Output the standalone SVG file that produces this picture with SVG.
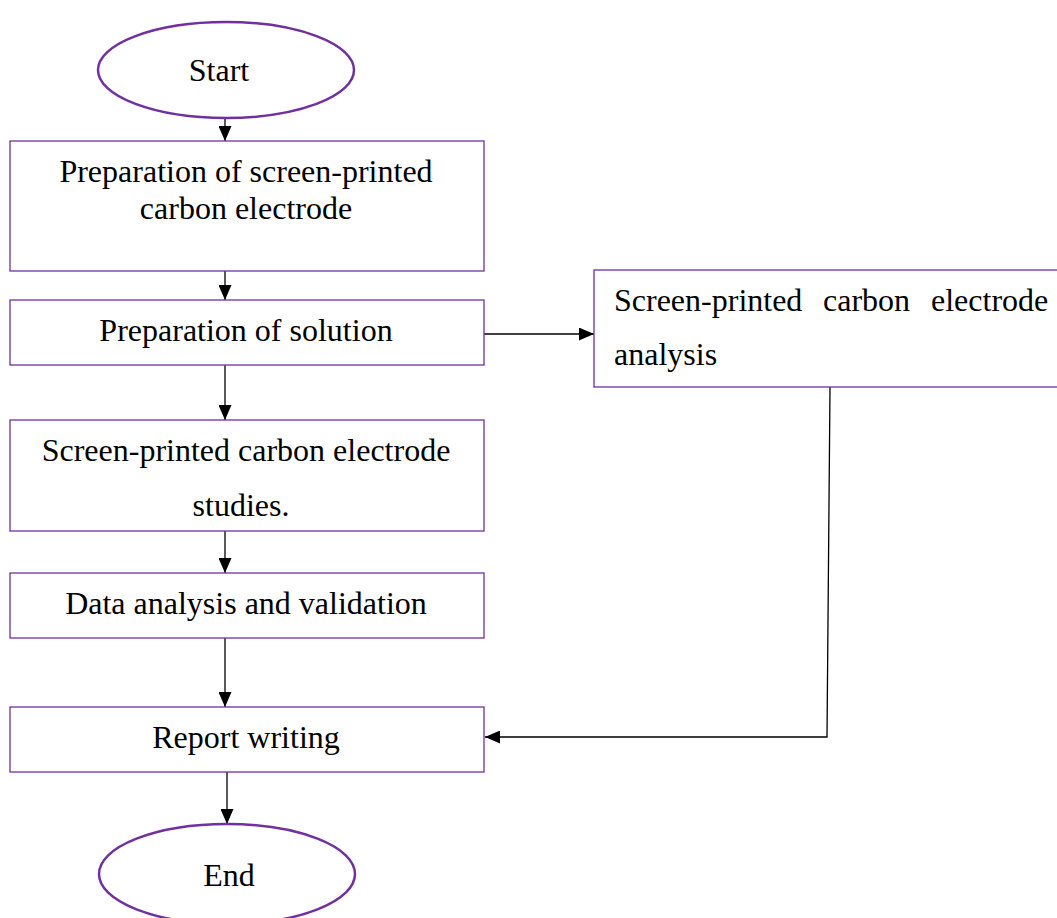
<svg xmlns="http://www.w3.org/2000/svg" width="1057" height="918" viewBox="0 0 1057 918">
<style>
.term{fill:#fff;stroke:#7030A0;stroke-width:2.5}
.box{fill:#fff;stroke:#7030A0;stroke-width:1.3}
.t{font-family:"Liberation Serif","Times New Roman",serif;font-size:32px;fill:#000}
.c{text-anchor:middle}
.ln{fill:none;stroke:#000;stroke-width:1.3}
</style>
<defs>
<marker id="ah" markerWidth="15" markerHeight="13" refX="15" refY="6.5" orient="auto" markerUnits="userSpaceOnUse">
<path d="M0,0 L15,6.5 L0,13 Z" fill="#000"/>
</marker>
</defs>
<rect width="1057" height="918" fill="#fff"/>
<g id="connectors">
<line class="ln" x1="225" y1="118" x2="225" y2="141" marker-end="url(#ah)"/>
<line class="ln" x1="225" y1="271" x2="225" y2="300" marker-end="url(#ah)"/>
<line class="ln" x1="484" y1="334" x2="594" y2="334" marker-end="url(#ah)"/>
<line class="ln" x1="225" y1="365" x2="225" y2="420" marker-end="url(#ah)"/>
<line class="ln" x1="225" y1="531" x2="225" y2="573" marker-end="url(#ah)"/>
<line class="ln" x1="225" y1="638" x2="225" y2="707" marker-end="url(#ah)"/>
<polyline class="ln" points="830,387 827,737 485,737" marker-end="url(#ah)"/>
<line class="ln" x1="227" y1="772" x2="227" y2="824" marker-end="url(#ah)"/>
</g>
<g id="start">
<ellipse class="term" cx="226" cy="70" rx="128" ry="48"/>
<text class="t c" x="219" y="81">Start</text>
</g>
<g id="prep-electrode">
<rect class="box" x="10" y="141" width="474" height="130"/>
<text class="t c" x="246" y="182">Preparation of screen-printed</text>
<text class="t c" x="246" y="219">carbon electrode</text>
</g>
<g id="prep-solution">
<rect class="box" x="10" y="300" width="474" height="65"/>
<text class="t c" x="246" y="341">Preparation of solution</text>
</g>
<g id="analysis">
<rect class="box" x="594" y="270" width="470" height="117"/>
<text class="t" y="311"><tspan x="614">Screen-printed</tspan><tspan x="823">carbon</tspan><tspan x="931">electrode</tspan></text>
<text class="t" x="614" y="365">analysis</text>
</g>
<g id="studies">
<rect class="box" x="10" y="420" width="474" height="111"/>
<text class="t c" x="246" y="461">Screen-printed carbon electrode</text>
<text class="t c" x="241" y="516">studies.</text>
</g>
<g id="data">
<rect class="box" x="10" y="573" width="474" height="65"/>
<text class="t c" x="246" y="614">Data analysis and validation</text>
</g>
<g id="report">
<rect class="box" x="10" y="707" width="474" height="65"/>
<text class="t c" x="246" y="748">Report writing</text>
</g>
<g id="end">
<ellipse class="term" cx="227" cy="874" rx="128" ry="50"/>
<text class="t c" x="229" y="886">End</text>
</g>
</svg>
